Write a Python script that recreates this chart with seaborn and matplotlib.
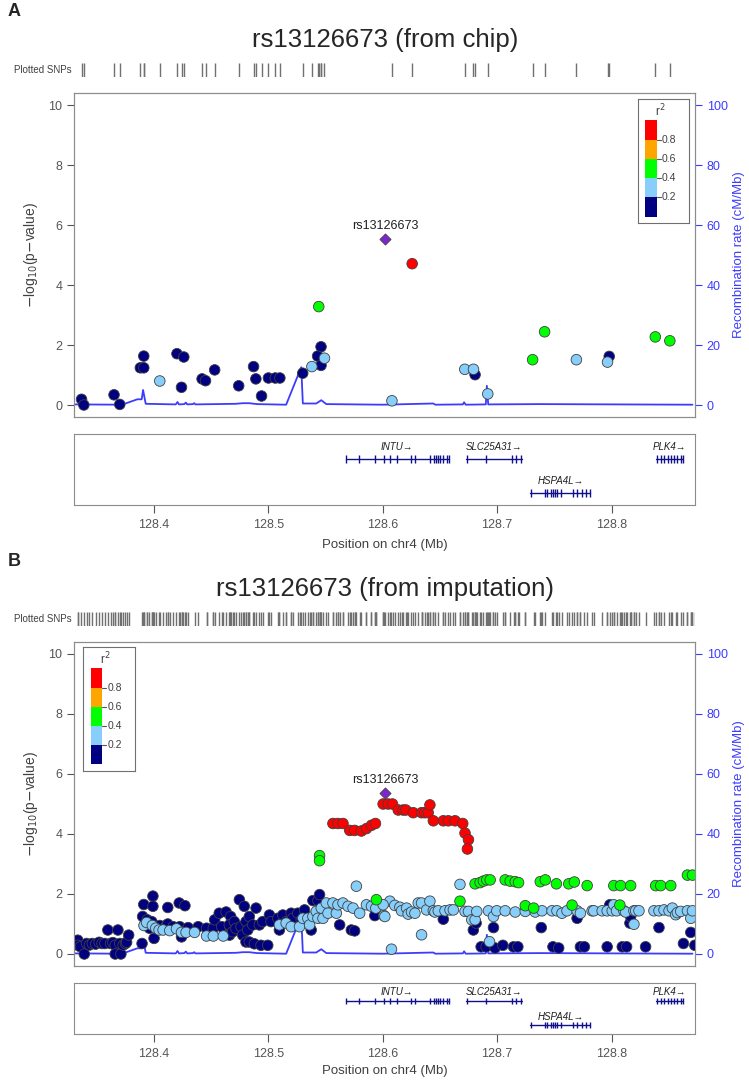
import numpy as np
import pandas as pd
import seaborn as sns
import matplotlib.pyplot as plt
from matplotlib.patches import Rectangle

sns.set_style("white")
plt.rcParams["font.family"] = ["Liberation Sans", "DejaVu Sans"]

# ============================================================
# DATA
# ============================================================
lead_snp = "rs13126673"
lead_pos = 128.602
lead_logp_chip = 5.52
lead_logp_imp = 5.38

r2_bins = ["0.0-0.2", "0.2-0.4", "0.4-0.6", "0.6-0.8", "0.8-1.0"]
r2_colors = ["#000080", "#87CEFA", "#00FF00", "#FFA500", "#FF0000"]
r2_ticks = ["0.2", "0.4", "0.6", "0.8"]

# --- panel A: SNPs from chip ---
chip_navy_pos = [128.3366, 128.3386, 128.365, 128.370, 128.391, 128.388, 128.391,
                 128.420, 128.426, 128.424, 128.442, 128.445, 128.453, 128.474,
                 128.487, 128.489, 128.494, 128.500, 128.506, 128.510, 128.530,
                 128.546, 128.543, 128.546, 128.6807, 128.798]
chip_navy_logp = [0.19, 0.00, 0.34, 0.02, 1.63, 1.24, 1.24, 1.71, 1.60, 0.59, 0.87,
                  0.81, 1.17, 0.64, 1.28, 0.87, 0.30, 0.90, 0.90, 0.90, 1.06, 1.94,
                  1.63, 1.32, 1.01, 1.62]
chip_lblue_pos = [128.405, 128.538, 128.549, 128.608, 128.6717, 128.6793, 128.6918,
                  128.7693, 128.7965]
chip_lblue_logp = [0.80, 1.28, 1.56, 0.14, 1.19, 1.19, 0.37, 1.51, 1.43]
chip_green_pos = [128.544, 128.731, 128.7415, 128.8383, 128.851]
chip_green_logp = [3.28, 1.51, 2.44, 2.27, 2.14]
chip_red_pos = [128.6257]
chip_red_logp = [4.71]

# --- panel B: SNPs from imputation ---
imp_navy_pos = [
    128.3333, 128.3333, 128.3357, 128.3390, 128.3410, 128.3435, 128.3460, 128.3490,
    128.3520, 128.3545, 128.3570, 128.3596, 128.3620, 128.3640, 128.3660, 128.3660,
    128.3684, 128.3700, 128.3710, 128.3730, 128.3750, 128.3760, 128.3778, 128.3895,
    128.3910, 128.3990, 128.3990, 128.3900, 128.3940, 128.3980, 128.3960, 128.4000,
    128.4120, 128.4220, 128.4270,
    128.4050, 128.4108, 128.4120, 128.4167, 128.4225, 128.4240, 128.4255, 128.4298,
    128.4386, 128.4459, 128.4518, 128.4530, 128.4570, 128.4591, 128.4630, 128.4660,
    128.4664, 128.4670,
    128.4658, 128.4687, 128.4702, 128.4716, 128.4746, 128.4760, 128.4775, 128.4789,
    128.4804, 128.4804, 128.4819, 128.4833, 128.4833, 128.4863, 128.4877, 128.4892,
    128.4921, 128.4935, 128.4950, 128.4994, 128.5009, 128.5023, 128.5082, 128.5096,
    128.5126, 128.5155, 128.5199, 128.5213, 128.5257, 128.5287, 128.5316, 128.5374,
    128.5389, 128.5433, 128.5447,
    128.5623, 128.5725, 128.5754, 128.5930,
    128.6529, 128.6792, 128.6816, 128.6968, 128.7386, 128.7699, 128.7985, 128.8161,
    128.8167, 128.8415, 128.8629, 128.8693, 128.8728,
    128.6860, 128.6904, 128.6982, 128.7050, 128.7143, 128.7181, 128.7488, 128.7538,
    128.7728, 128.7763, 128.7962, 128.8094, 128.8132, 128.8298]
imp_navy_logp = [
    0.46, 0.29, 0.24, 0.00, 0.35, 0.30, 0.35, 0.33,
    0.39, 0.35, 0.35, 0.80, 0.35, 0.38, 0.29, 0.00,
    0.80, 0.35, 0.00, 0.30, 0.35, 0.39, 0.63, 0.35,
    1.65, 1.93, 1.59, 1.25, 1.14, 1.08, 0.86, 0.52,
    1.55, 1.70, 1.61,
    0.95, 0.95, 1.00, 0.91, 0.91, 0.57, 0.75, 0.88,
    0.91, 0.86, 0.86, 1.14, 1.36, 0.91, 1.40, 0.63,
    0.91, 1.25,
    0.97, 0.74, 1.08, 0.85, 1.81, 0.91, 0.63, 1.59,
    1.08, 0.40, 0.80, 1.25, 0.40, 0.97, 0.34, 1.53,
    0.97, 0.29, 1.08, 0.29, 1.30, 1.08, 1.19, 0.80,
    1.30, 1.08, 1.36, 1.19, 1.36, 1.13, 1.47, 0.80,
    1.78, 1.78, 1.98,
    0.97, 0.80, 0.77, 1.28,
    1.16, 0.80, 1.03, 0.88, 0.88, 1.19, 1.64, 1.03,
    1.25, 0.88, 0.35, 0.72, 0.29,
    0.24, 0.24, 0.20, 0.29, 0.24, 0.24, 0.24, 0.20,
    0.24, 0.24, 0.24, 0.24, 0.24, 0.24]
imp_lblue_pos = [
    128.3912, 128.3935, 128.3985, 128.4015, 128.4044, 128.4079, 128.4137, 128.4196,
    128.4240, 128.4280, 128.4354, 128.4459, 128.4518, 128.4605,
    128.5096, 128.5155, 128.5199, 128.5272, 128.5301, 128.5345, 128.5360, 128.5389,
    128.5418, 128.5433, 128.5462, 128.5477, 128.5506, 128.5521, 128.5564, 128.5594,
    128.5608, 128.5652, 128.5696, 128.5740, 128.5769, 128.5798, 128.5857, 128.5901,
    128.5939, 128.6009, 128.6062, 128.6076, 128.6105,
    128.6003, 128.6018, 128.6149, 128.6164, 128.6208, 128.6222, 128.6251, 128.6281,
    128.6310, 128.6339, 128.6339, 128.6383, 128.6412, 128.6442, 128.6456, 128.6485,
    128.6544, 128.6588, 128.6617, 128.6675, 128.6719, 128.6749, 128.6778, 128.6807,
    128.6822, 128.6924, 128.6933, 128.6968, 128.6997, 128.7070, 128.7158, 128.7246,
    128.7333, 128.7392, 128.7480, 128.7523, 128.7567, 128.7611, 128.7699, 128.7728,
    128.7830, 128.7845, 128.7918, 128.7962, 128.8006, 128.8020, 128.8044, 128.8108,
    128.8123, 128.8196, 128.8196, 128.8211, 128.8240, 128.8371, 128.8415, 128.8459,
    128.8503, 128.8532, 128.8561, 128.8576, 128.8605, 128.8664, 128.8693, 128.8708]
imp_lblue_logp = [
    0.95, 1.05, 0.95, 0.86, 0.80, 0.80, 0.78, 0.84,
    0.72, 0.72, 0.72, 0.60, 0.60, 0.60,
    0.97, 1.03, 0.91, 0.91, 1.19, 1.19, 0.97, 1.25,
    1.42, 1.19, 1.53, 1.19, 1.70, 1.36, 1.70, 1.36,
    1.64, 1.70, 1.59, 1.53, 2.26, 1.36, 1.64, 1.59,
    1.53, 1.28, 1.76, 0.16, 1.62,
    1.64, 1.25, 1.56, 1.44, 1.53, 1.33, 1.40, 1.36,
    1.70, 1.70, 0.64, 1.47, 1.76, 1.44, 1.40, 1.44,
    1.44, 1.47, 1.47, 2.32, 1.42, 1.42, 1.14, 1.14,
    1.42, 1.44, 0.41, 1.25, 1.44, 1.44, 1.40, 1.42,
    1.40, 1.44, 1.44, 1.44, 1.36, 1.44, 1.44, 1.36,
    1.44, 1.44, 1.44, 1.44, 1.44, 1.64, 1.44, 1.44,
    1.40, 1.44, 0.99, 1.44, 1.44, 1.44, 1.44, 1.47,
    1.44, 1.53, 1.31, 1.38, 1.42, 1.44, 1.19, 1.44]
imp_green_pos = [
    128.5447, 128.5447, 128.5944, 128.6675, 128.6807, 128.6851, 128.6880, 128.6909,
    128.6939, 128.7070, 128.7114, 128.7158, 128.7187, 128.7246, 128.7319, 128.7377,
    128.7421, 128.7518, 128.7626, 128.7655, 128.7675, 128.7787, 128.8020, 128.8073,
    128.8079, 128.8167, 128.8386, 128.8430, 128.8518, 128.8664, 128.8708]
imp_green_logp = [
    3.28, 3.11, 1.81, 1.76, 2.34, 2.38, 2.43, 2.47,
    2.47, 2.47, 2.43, 2.41, 2.38, 1.61, 1.53, 2.41,
    2.47, 2.34, 2.34, 1.63, 2.40, 2.28, 2.28, 1.63,
    2.28, 2.28, 2.28, 2.28, 2.28, 2.63, 2.63]
imp_red_pos = [
    128.5564, 128.5608, 128.5652, 128.5711, 128.5754, 128.5813, 128.5857, 128.5901,
    128.5936, 128.6003, 128.6047, 128.6085, 128.6135, 128.6178, 128.6202, 128.6266,
    128.6339, 128.6368, 128.6397, 128.6412, 128.6442, 128.6529, 128.6573, 128.6632,
    128.6699, 128.6719, 128.6749, 128.6740]
imp_red_logp = [
    4.35, 4.35, 4.35, 4.12, 4.12, 4.10, 4.18, 4.29,
    4.35, 5.00, 5.00, 5.00, 4.80, 4.80, 4.80, 4.71,
    4.71, 4.71, 4.71, 4.97, 4.44, 4.44, 4.44, 4.44,
    4.35, 4.03, 3.81, 3.50]

# --- recombination rate (cM/Mb), same region in both panels ---
recomb_pos = [128.330, 128.372, 128.3854, 128.3892, 128.3904, 128.3927, 128.419,
              128.4205, 128.4218, 128.4265, 128.4278, 128.4290, 128.4340, 128.4351,
              128.4362, 128.4716, 128.4775, 128.4833, 128.4900, 128.5155, 128.5287,
              128.5301, 128.5418, 128.5462, 128.5506, 128.6000, 128.6441, 128.6460,
              128.6700, 128.6711, 128.6725, 128.6901, 128.6910, 128.6922, 128.7377,
              128.8708]
recomb_rate = [0.2, 0.1, 1.9, 1.9, 5.0, 0.4, 0.2, 1.0, 0.2, 0.3, 0.8, 0.2, 0.3, 0.6,
               0.2, 0.4, 0.6, 0.6, 0.3, 0.1, 12.6, 0.5, 0.5, 1.6, 0.3, 0.1, 0.5, 0.1,
               0.2, 0.9, 0.1, 0.2, 6.4, 0.2, 0.3, 0.1]

# --- genes ---
gene_names = ["INTU", "SLC25A31", "HSPA4L", "PLK4"]
gene_start = [128.5675, 128.6728, 128.7289, 128.8386]
gene_end = [128.6579, 128.7219, 128.7816, 128.8623]
gene_row = [0, 0, 1, 0]
gene_exons = [
    [128.5682, 128.5795, 128.5936, 128.6011, 128.6063, 128.6123, 128.6243, 128.6280,
     128.6410, 128.6452, 128.6467, 128.6482, 128.6497, 128.6530, 128.6560, 128.6579],
    [128.6736, 128.6902, 128.7134, 128.7165, 128.7211],
    [128.7296, 128.7415, 128.7440, 128.7468, 128.7487, 128.7504, 128.7523, 128.7559,
     128.7666, 128.7702, 128.7738, 128.7773, 128.7809],
    [128.8395, 128.8430, 128.8460, 128.8491, 128.8518, 128.8548, 128.8570, 128.8605,
     128.8623],
]

x_ticks = [128.4, 128.5, 128.6, 128.7, 128.8]
x_lim = (128.330, 128.873)

# ============================================================
# HELPERS
# ============================================================
W, H = 749, 1083
AX_GRAY = "#8c8c8c"
TXT_GRAY = "#404040"
RECOMB_BLUE = "#3c3cff"
GENE_BLUE = "#10108a"


def fig_rect(left, top, right, bottom):
    return [left / W, 1 - bottom / H, (right - left) / W, (bottom - top) / H]


def make_df(groups):
    frames = []
    for pos, logp, label in groups:
        frames.append(pd.DataFrame({"pos": pos, "logp": logp, "r2": label}))
    return pd.concat(frames, ignore_index=True)


def draw_r2_legend(ax, bounds):
    lg = ax.inset_axes(bounds)
    lg.set_xlim(0, 1)
    lg.set_ylim(0, 1)
    lg.set_xticks([])
    lg.set_yticks([])
    lg.set_facecolor("white")
    for s in lg.spines.values():
        s.set_color("#707070")
        s.set_linewidth(0.8)
    y0, h = 0.053, 0.155
    for i, col in enumerate(r2_colors):
        lg.add_patch(Rectangle((0.141, y0 + i * h), 0.227, h,
                               facecolor=col, edgecolor="none"))
    for i, lab in enumerate(r2_ticks):
        y = y0 + (i + 1) * h
        lg.plot([0.368, 0.44], [y, y], color="#555555", lw=0.8)
        lg.text(0.47, y, lab, va="center", ha="left", fontsize=7.5, color=TXT_GRAY)
    lg.text(0.43, 0.905, "r$^2$", ha="center", va="center", fontsize=8.5,
            color=TXT_GRAY)
    lg.set_zorder(10)


def draw_panel(top, letter, title, df, lead_logp, legend_bounds, gene_box, xlab_pad):
    # letter + title
    fig.text(8 / W, 1 - (top - 81) / H, letter, fontsize=13, fontweight="bold",
             ha="left", va="center")
    fig.text(385 / W, 1 - (top - 53) / H, title, fontsize=18.5, ha="center",
             va="center")

    # rug of plotted SNPs
    rax = fig.add_axes(fig_rect(74, top - 30, 695, top - 16))
    sns.rugplot(x=df["pos"], height=1, ax=rax, color="#707070", lw=0.7,
                expand_margins=False)
    rax.set_xlim(x_lim)
    rax.set_ylim(0, 1)
    rax.axis("off")
    rax.text(-0.004, 0.5, "Plotted SNPs", transform=rax.transAxes, ha="right",
             va="center", fontsize=7, color=TXT_GRAY)

    # main association plot
    ax = fig.add_axes(fig_rect(74, top, 695, top + 324))
    ax2 = ax.twinx()
    sns.lineplot(x=recomb_pos, y=recomb_rate, ax=ax2, color=RECOMB_BLUE, lw=1.3,
                 estimator=None, sort=False)
    ax2.set_ylim(-4, 104)
    ax2.set_yticks([0, 20, 40, 60, 80, 100])
    ax2.tick_params(axis="y", colors=RECOMB_BLUE, labelsize=9, length=5, width=0.8)
    ax2.set_ylabel("Recombination rate (cM/Mb)", color=RECOMB_BLUE, fontsize=9.5,
                   labelpad=4)

    ax.set_zorder(ax2.get_zorder() + 1)
    ax.patch.set_visible(False)
    sns.scatterplot(data=df, x="pos", y="logp", hue="r2", hue_order=r2_bins,
                    palette=dict(zip(r2_bins, r2_colors)), s=58,
                    edgecolor="#404040", linewidth=0.6, legend=False, ax=ax)
    ax.scatter([lead_pos], [lead_logp], marker="D", s=32, color="#7D26CD",
               edgecolor="#404040", linewidth=0.6, zorder=5)
    ax.annotate(lead_snp, (lead_pos, lead_logp), xytext=(0, 5),
                textcoords="offset points", ha="center", va="bottom",
                fontsize=9, color="#202020")
    ax.set_xlim(x_lim)
    ax.set_ylim(-0.4, 10.4)
    ax.set_yticks([0, 2, 4, 6, 8, 10])
    ax.set_xticks([])
    ax.set_xlabel("")
    ax.set_ylabel("$-$log$_{10}$(p$-$value)", fontsize=10, color=TXT_GRAY,
                  labelpad=6)
    ax.tick_params(axis="y", colors="#555555", labelsize=9, length=5, width=0.8,
                   left=True)
    for s in list(ax.spines.values()) + list(ax2.spines.values()):
        s.set_color(AX_GRAY)
        s.set_linewidth(0.8)
    draw_r2_legend(ax, legend_bounds)

    # gene track
    gtop, gbot = gene_box
    gax = fig.add_axes(fig_rect(74, gtop, 695, gbot))
    gax.set_xlim(x_lim)
    gax.set_ylim(0, 1)
    for name, start, end, row, exons in zip(gene_names, gene_start, gene_end,
                                            gene_row, gene_exons):
        y = 0.65 if row == 0 else 0.17
        gax.plot([start, end], [y, y], color=GENE_BLUE, lw=1.0)
        gax.vlines(exons, y - 0.06, y + 0.06, color=GENE_BLUE, lw=1.0)
        gax.text((start + end) / 2, y + 0.17, name + "\u2192", ha="center",
                 va="center", fontsize=7, style="italic", color="#202020")
    gax.set_yticks([])
    gax.set_xticks(x_ticks)
    gax.set_xticklabels([f"{t:.1f}" for t in x_ticks])
    gax.tick_params(axis="x", colors="#555555", labelsize=9, length=6, width=0.8,
                    bottom=True, pad=4)
    gax.set_xlabel("Position on chr4 (Mb)", fontsize=9.5, color=TXT_GRAY,
                   labelpad=xlab_pad)
    for s in gax.spines.values():
        s.set_color(AX_GRAY)
        s.set_linewidth(0.8)


# ============================================================
# BUILD FIGURE
# ============================================================
df_chip = make_df([
    (chip_navy_pos, chip_navy_logp, r2_bins[0]),
    (chip_lblue_pos, chip_lblue_logp, r2_bins[1]),
    (chip_green_pos, chip_green_logp, r2_bins[2]),
    (chip_red_pos, chip_red_logp, r2_bins[4]),
])
df_imp = make_df([
    (imp_navy_pos, imp_navy_logp, r2_bins[0]),
    (imp_lblue_pos, imp_lblue_logp, r2_bins[1]),
    (imp_green_pos, imp_green_logp, r2_bins[2]),
    (imp_red_pos, imp_red_logp, r2_bins[4]),
])

fig = plt.figure(figsize=(W / 100, H / 100), dpi=100)

draw_panel(93, "A", f"{lead_snp} (from chip)", df_chip, lead_logp_chip,
           [0.908, 0.598, 0.083, 0.383], (434, 505), 6)
draw_panel(642, "B", f"{lead_snp} (from imputation)", df_imp, lead_logp_imp,
           [0.015, 0.602, 0.083, 0.382], (983, 1034), 4)

plt.savefig("out.png", dpi=100)
plt.close()
